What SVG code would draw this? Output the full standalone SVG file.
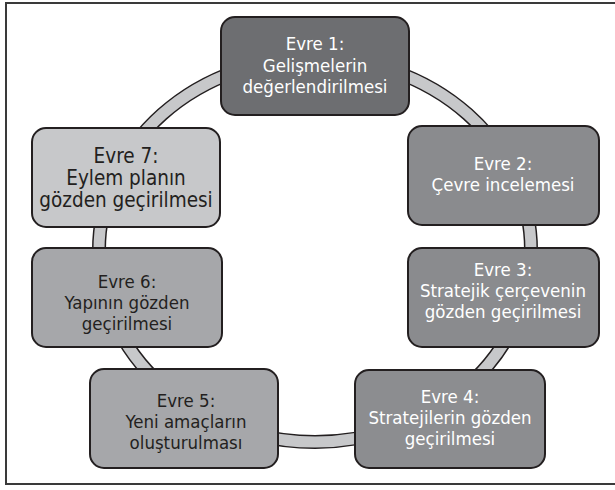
<svg xmlns="http://www.w3.org/2000/svg" width="615" height="490" viewBox="0 0 615 490">
<style>
.box{stroke:#231f20;stroke-width:2}
.t{font-family:"DejaVu Sans Condensed","DejaVu Sans",sans-serif;font-stretch:condensed;font-size:18.5px;text-anchor:middle}
.w{fill:#ffffff}
.d{fill:#231f20}
.big{font-size:20.5px}
</style>
<rect x="0" y="0" width="615" height="490" fill="#ffffff"/>
<rect x="6" y="3" width="620" height="481" fill="#ffffff" stroke="#3a3a3a" stroke-width="2"/>
<g id="connectors">
<ellipse cx="315" cy="250" rx="216" ry="192" fill="none" stroke="#231f20" stroke-width="14"/>
<ellipse cx="315" cy="250" rx="216" ry="192" fill="none" stroke="#c7c8ca" stroke-width="11"/>
</g>
<g id="n1">
<rect class="box" x="221" y="17" width="188" height="98" rx="14" fill="#6d6e71"/>
<text class="t w" x="315" y="50">Evre 1:</text>
<text class="t w" x="315" y="72">Gelişmelerin</text>
<text class="t w" x="315" y="93">değerlendirilmesi</text>
</g>
<g id="n2">
<rect class="box" x="408" y="126" width="191" height="99" rx="14" fill="#8a8b8e"/>
<text class="t w" x="503" y="170">Evre 2:</text>
<text class="t w" x="503" y="191">Çevre incelemesi</text>
</g>
<g id="n3">
<rect class="box" x="408" y="248" width="191" height="99" rx="14" fill="#8a8b8e"/>
<text class="t w" x="503" y="276">Evre 3:</text>
<text class="t w" x="503" y="297">Stratejik çerçevenin</text>
<text class="t w" x="503" y="318">gözden geçirilmesi</text>
</g>
<g id="n4">
<rect class="box" x="355" y="370" width="190" height="98" rx="14" fill="#8c8d90"/>
<text class="t w" x="450" y="403">Evre 4:</text>
<text class="t w" x="450" y="424">Stratejilerin gözden</text>
<text class="t w" x="450" y="445">geçirilmesi</text>
</g>
<g id="n5">
<rect class="box" x="90" y="369" width="188" height="99" rx="14" fill="#a6a7aa"/>
<text class="t d" x="186" y="407">Evre 5:</text>
<text class="t d" x="186" y="428">Yeni amaçların</text>
<text class="t d" x="186" y="449">oluşturulması</text>
</g>
<g id="n6">
<rect class="box" x="32" y="248" width="190" height="99" rx="14" fill="#a6a7aa"/>
<text class="t d" x="127" y="288">Evre 6:</text>
<text class="t d" x="127" y="309">Yapının gözden</text>
<text class="t d" x="127" y="330">geçirilmesi</text>
</g>
<g id="n7">
<rect class="box" x="32" y="128" width="188" height="99" rx="14" fill="#c7c8ca"/>
<text class="t d big" x="126" y="163">Evre 7:</text>
<text class="t d big" x="126" y="185">Eylem planın</text>
<text class="t d big" x="126" y="207">gözden geçirilmesi</text>
</g>
</svg>
